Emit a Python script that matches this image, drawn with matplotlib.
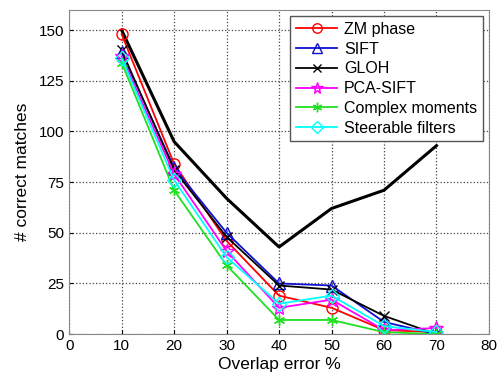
import matplotlib
matplotlib.use('Agg')
import matplotlib.pyplot as plt

plt.rcParams['font.family'] = ['Liberation Sans', 'DejaVu Sans']

overlap = [10, 20, 30, 40, 50, 60, 70]
zm_phase = [148, 84, 46, 19, 13, 2, 1]
sift = [139, 82, 50, 25, 24, 6, 0]
gloh = [140, 81, 48, 24, 22, 9, 0]
pca_sift = [137, 79, 41, 13, 17, 2, 3]
complex_moments = [134, 71, 34, 7, 7, 1, 0]
steerable = [136, 76, 38, 15, 19, 4, 1]
# thick black curve, no legend entry
upper = [150, 95, 67, 43, 62, 71, 93]

fig = plt.figure(figsize=(5.01, 3.78), dpi=100)
ax = fig.add_axes([0.138, 0.116, 0.838, 0.858])

ax.plot(overlap, upper, color='black', lw=2.2)
ax.plot(overlap, zm_phase, color='red', marker='o', mfc='none', ms=8, lw=1.3, label='ZM phase')
ax.plot(overlap, sift, color='#1010d0', marker='^', mfc='none', ms=8, lw=1.3, label='SIFT')
ax.plot(overlap, gloh, color='black', marker='x', ms=7, lw=1.3, label='GLOH')
ax.plot(overlap, pca_sift, color='magenta', marker='*', mfc='none', ms=10, lw=1.3, label='PCA-SIFT')
ax.plot(overlap, complex_moments, color='#20e020', marker=(6, 2, 0), ms=8, lw=1.3, label='Complex moments')
ax.plot(overlap, steerable, color='cyan', marker='D', mfc='none', ms=7, lw=1.3, label='Steerable filters')

ax.set_xlim(0, 80)
ax.set_ylim(0, 160)
ax.set_xticks(range(0, 90, 10))
ax.set_yticks([0, 25, 50, 75, 100, 125, 150])
ax.grid(True, linestyle=':', color='#444444', lw=0.9)
ax.tick_params(labelsize=11, direction='in', length=3)
for s in ax.spines.values():
    s.set_color('#888888')
ax.set_xlabel('Overlap error %', fontsize=12.5, labelpad=3)
ax.set_ylabel('# correct matches', fontsize=12.5, labelpad=6)

leg = ax.legend(loc='upper right', fontsize=11.5, fancybox=False, framealpha=1,
                edgecolor='#555555', borderaxespad=0.4, handlelength=2.6,
                labelspacing=0.3, borderpad=0.35, handletextpad=0.4,
                markerscale=0.85)

fig.savefig('out.png', dpi=100)
